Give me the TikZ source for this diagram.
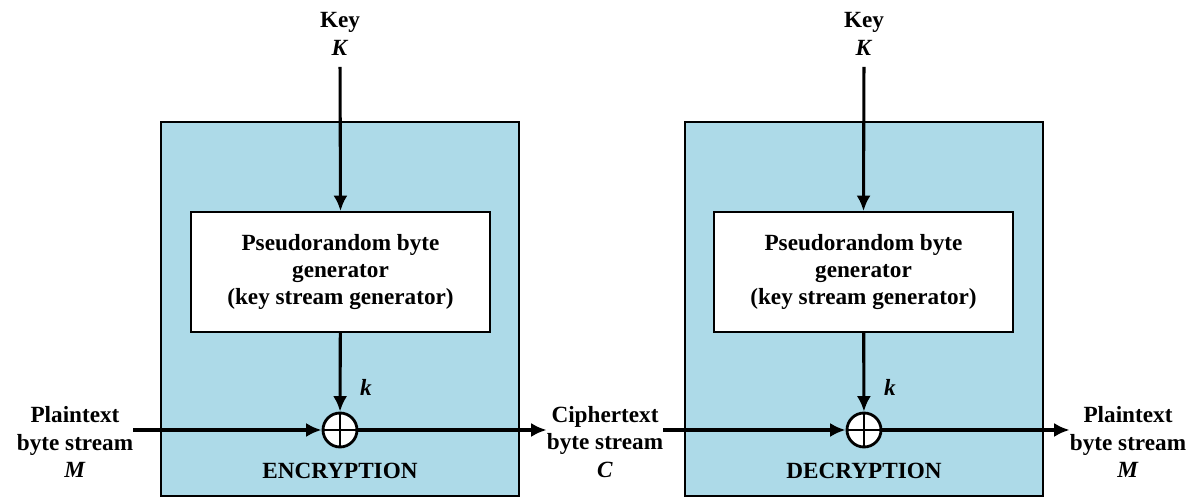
\documentclass[tikz,border=0pt]{standalone}
\usepackage{fontspec}
\setmainfont{Liberation Serif}
\usetikzlibrary{arrows.meta}
\definecolor{boxblue}{RGB}{173,218,232}
\tikzset{
	txt/.style={font=\fontsize{16.5}{19.5}\selectfont\bfseries, align=center, inner sep=0pt},
	stage/.style={draw, fill=boxblue, line width=1.3pt},
	gen/.style={txt, draw, fill=white, line width=1.3pt, minimum width=7.475cm, minimum height=3cm},
	xor/.style={circle, draw, fill=white, line width=2pt, minimum size=0.85cm, inner sep=0pt},
	flow/.style={line width=2.2pt, -{Latex[length=11pt,width=10pt]}}
}
\begin{document}
\begin{tikzpicture}[x=0.025cm,y=0.025cm]
	\useasboundingbox (0,0) rectangle (1204,497);
	\draw[stage] (161,1) rectangle (519,375);
	\draw[stage] (685,1) rectangle (1043,375);
	
	\node[txt] (key1) at (340,463) {Key\\\textit{K}};
	\node[txt] (key2) at (864,463) {Key\\\textit{K}};
	\node[gen] (gen1) at (340.5,225) {Pseudorandom byte\\generator\\(key stream generator)};
	\node[gen] (gen2) at (863.5,225) {Pseudorandom byte\\generator\\(key stream generator)};
	\node[xor] (xor1) at (340,67) {};
	\node[xor] (xor2) at (864,67) {};
	\node[txt] (k1) at (366,110) {\textit{k}};
	\node[txt] (k2) at (890,110) {\textit{k}};
	\node[txt] (plain1) at (75,55) {Plaintext\\byte stream\\\textit{M}};
	\node[txt] (cipher) at (605,55) {Ciphertext\\byte stream\\\textit{C}};
	\node[txt] (plain2) at (1128,55) {Plaintext\\byte stream\\\textit{M}};
	\node[txt] (enc) at (340,26) {ENCRYPTION};
	\node[txt] (dec) at (864,26) {DECRYPTION};
	
	\draw[flow, shorten <=8pt] (key1.south) -- (gen1.north);
	\draw[flow, shorten <=8pt] (key2.south) -- (gen2.north);
	\draw[flow] (gen1) -- (xor1);
	\draw[flow] (gen2) -- (xor2);
	\draw[flow] (xor1 -| plain1.east) -- (xor1);
	\draw[flow] (xor1) -- (xor1 -| cipher.west);
	\draw[flow] (xor2 -| cipher.east) -- (xor2);
	\draw[flow] (xor2) -- (xor2 -| plain2.west);
	\draw[line width=1.8pt] (xor1.north) -- (xor1.south) (xor1.west) -- (xor1.east);
	\draw[line width=1.8pt] (xor2.north) -- (xor2.south) (xor2.west) -- (xor2.east);
\end{tikzpicture}
\end{document}
